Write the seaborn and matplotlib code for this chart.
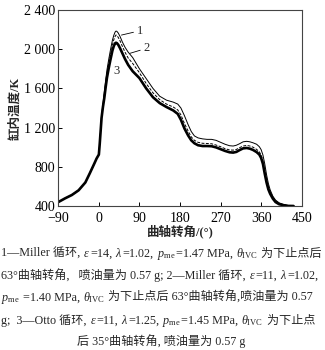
import matplotlib
matplotlib.use("Agg")
import matplotlib.pyplot as plt
import matplotlib.ticker as mticker
import pandas as pd
import seaborn as sns

# ── Data ───────────────────────────────────────────────────────────────────────

# compression stroke, identical for all three cycles
comp_angle = [-90, -75, -60, -45, -30, -20, -10, -5, 0]
comp_temp = [440, 478, 512, 560, 640, 735, 834, 885, 925]

angle = [2, 4, 6, 9, 12, 15, 18, 22, 26, 30, 33, 36, 38, 40, 43, 47, 52, 58,
         65, 75, 90, 105, 120, 135, 150, 165, 175, 182, 190, 198, 205, 212,
         220, 230, 240, 250, 260, 270, 280, 290, 298, 305, 312, 320, 328, 335,
         342, 350, 356, 360, 364, 368, 372, 376, 380, 386, 392, 400, 410, 420,
         432]

temp_1 = [1045, 1180, 1320, 1440, 1560, 1680, 1790, 1900, 2000, 2090, 2140,
          2175, 2185, 2182, 2165, 2130, 2075, 2020, 1970, 1915, 1800, 1700,
          1600, 1520, 1480, 1460, 1440, 1400, 1320, 1230, 1160, 1115, 1095,
          1085, 1080, 1080, 1070, 1050, 1030, 1015, 1012, 1020, 1035, 1055,
          1060, 1055, 1045, 1030, 1005, 975, 920, 830, 720, 630, 565, 500,
          460, 432, 415, 405, 400]

temp_2 = [1042, 1175, 1310, 1425, 1530, 1645, 1750, 1855, 1950, 2040, 2095,
          2130, 2145, 2140, 2120, 2085, 2030, 1970, 1910, 1855, 1760, 1650,
          1555, 1485, 1440, 1410, 1380, 1330, 1240, 1165, 1105, 1070, 1050,
          1040, 1038, 1035, 1022, 1005, 985, 972, 970, 977, 995, 1012, 1018,
          1012, 1000, 978, 952, 920, 860, 765, 670, 595, 545, 488, 452, 428,
          412, 403, 400]

temp_3 = [1040, 1170, 1300, 1410, 1500, 1610, 1710, 1810, 1900, 1985, 2030,
          2060, 2066, 2062, 2045, 2010, 1960, 1900, 1840, 1775, 1705, 1600,
          1510, 1450, 1410, 1375, 1340, 1280, 1190, 1120, 1070, 1040, 1020,
          1012, 1012, 1010, 998, 980, 962, 948, 945, 952, 970, 988, 992, 985,
          972, 950, 925, 890, 830, 730, 640, 570, 525, 475, 440, 418, 408,
          401, 400]

x_ticks = [-90, 0, 90, 180, 270, 360, 450]
y_ticks = [400, 800, 1200, 1600, 2000, 2400]

caption = [
    ["1—Miller 循环, ", r"$\varepsilon$", "=14, ", r"$\lambda$", "=1.02, ",
     r"$p_{\rm me}$", "=1.47 MPa, ", r"$\theta_{\rm IVC}$", " 为下止点后"],
    ["63°曲轴转角,   喷油量为 0.57 g; 2—Miller 循环, ", r"$\varepsilon$", "=11, ",
     r"$\lambda$", "=1.02,"],
    [r"$p_{\rm me}$", " =1.40 MPa, ", r"$\theta_{\rm IVC}$",
     " 为下止点后 63°曲轴转角,喷油量为 0.57"],
    ["g;  3—Otto 循环, ", r"$\varepsilon$", "=11, ", r"$\lambda$", "=1.25, ",
     r"$p_{\rm me}$", "=1.45 MPa, ", r"$\theta_{\rm IVC}$", " 为下止点"],
    ["后 35°曲轴转角, 喷油量为 0.57 g"],
]

# ── Style ──────────────────────────────────────────────────────────────────────

sns.set_theme(style="ticks")
FAMILY = ["Liberation Serif", "Noto Sans CJK SC", "DejaVu Sans"]
plt.rcParams["font.family"] = FAMILY
plt.rcParams["mathtext.fontset"] = "custom"
plt.rcParams["mathtext.rm"] = "Liberation Serif"
plt.rcParams["mathtext.it"] = "Liberation Serif:italic"
plt.rcParams["mathtext.bf"] = "Liberation Serif:bold"

W, H = 325, 350
fig = plt.figure(figsize=(W / 100, H / 100), dpi=100)
ax = fig.add_axes([58.3 / W, 1 - 206 / H, 243.4 / W, 196 / H])


def curve(temps):
    return pd.DataFrame({"angle": comp_angle + angle, "temp": comp_temp + temps})


sns.lineplot(data=curve(temp_1), x="angle", y="temp", sort=False, estimator=None,
             color="black", linewidth=0.7, ax=ax)
sns.lineplot(data=curve(temp_2), x="angle", y="temp", sort=False, estimator=None,
             color="black", linewidth=0.7, linestyle=(0, (3, 1.5)), ax=ax)
sns.lineplot(data=curve(temp_3), x="angle", y="temp", sort=False, estimator=None,
             color="black", linewidth=1.9, ax=ax)

ax.set_xlim(-90, 450)
ax.set_ylim(400, 2400)
ax.set_xticks(x_ticks)
ax.set_yticks(y_ticks)
ax.yaxis.set_major_formatter(
    mticker.FuncFormatter(lambda v, _: f"{v:,.0f}".replace(",", " ")))
ax.tick_params(direction="in", length=3, width=0.7, labelsize=10, pad=2,
               colors="black")
ax.tick_params(axis="x", pad=4)
for sp in ax.spines.values():
    sp.set_color("#444444")
    sp.set_linewidth(0.8)

ax.set_xlabel("曲轴转角/(°)", fontsize=9, fontweight="bold", labelpad=0)
ax.set_ylabel("缸内温度/K", fontsize=9, fontweight="bold", labelpad=2)

# curve labels with leader lines
lead = dict(arrowstyle="-", color="black", lw=0.6, shrinkA=0, shrinkB=0)
ax.annotate("1", xy=(50, 2144), xytext=(84, 2188), fontsize=9,
            va="center", ha="left", arrowprops=lead)
ax.annotate("2", xy=(69, 1958), xytext=(99, 2009), fontsize=9,
            va="center", ha="left", arrowprops=lead)
ax.text(40, 1780, "3", fontsize=9, ha="center", va="center")

# ── Caption (mixed CJK + math, laid out segment by segment) ───────────────────

renderer = fig.canvas.get_renderer()
CAP_FS = 8.7
space_px = CAP_FS * 0.25 * 100 / 72


def caption_line(segs, y_px, x_px=1.0, center=None):
    arts = []
    x = x_px
    for s in segs:
        stripped = s.rstrip(" ")
        n_trail = len(s) - len(stripped)
        t = fig.text(x / W, 1 - y_px / H, stripped, fontsize=CAP_FS,
                     ha="left", va="baseline", family=FAMILY)
        arts.append(t)
        x += t.get_window_extent(renderer).width + n_trail * space_px
    if center is not None:
        shift = center - (x_px + x) / 2
        for t in arts:
            px, py = t.get_position()
            t.set_position((px + shift / W, py))


baselines = [257, 279, 301, 324, 345]
for i, segs in enumerate(caption):
    caption_line(segs, baselines[i], center=161 if i == 4 else None)

fig.savefig("out.png", dpi=100)
